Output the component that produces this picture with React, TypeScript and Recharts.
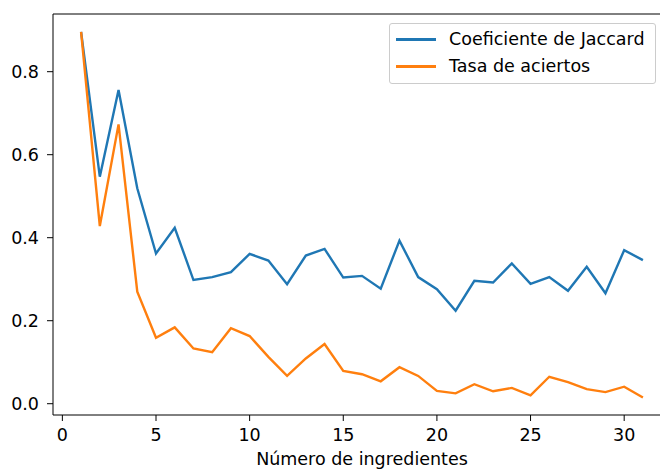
import React from "react";
import { LineChart, Line, XAxis, YAxis } from "recharts";

const ingredients = [
  1, 2, 3, 4, 5, 6, 7, 8, 9, 10, 11, 12, 13, 14, 15, 16, 17, 18, 19, 20, 21, 22, 23, 24, 25, 26, 27, 28, 29, 30, 31,
];
const jaccard = [
  0.896, 0.547, 0.756, 0.519, 0.362, 0.424, 0.298, 0.305, 0.317, 0.361, 0.345, 0.288, 0.357, 0.373, 0.304, 0.308,
  0.277, 0.393, 0.305, 0.276, 0.224, 0.296, 0.292, 0.338, 0.289, 0.305, 0.272, 0.33, 0.266, 0.37, 0.346,
];
const aciertos = [
  0.896, 0.428, 0.673, 0.27, 0.159, 0.184, 0.133, 0.124, 0.182, 0.163, 0.113, 0.067, 0.109, 0.144, 0.079, 0.071,
  0.054, 0.088, 0.067, 0.031, 0.025, 0.047, 0.03, 0.038, 0.02, 0.065, 0.052, 0.035, 0.028, 0.041, 0.015,
];
const xTicks = [0, 5, 10, 15, 20, 25, 30];
const yTicks = [0, 0.2, 0.4, 0.6, 0.8];

const seriesNames = ["Coeficiente de Jaccard", "Tasa de aciertos"];
const COLORS = ["#1f77b4", "#ff7f0e"];
const FONT = "DejaVu Sans";
const FS = 17.5;

const data = ingredients.map((n, i) => ({ n, jaccard: jaccard[i], aciertos: aciertos[i] }));

// legend drawn as an overlay so it doesn't eat plot space
const LegendBox = () => (
  <div
    style={{
      position: "absolute",
      left: 389,
      top: 23,
      border: "1px solid #cccccc",
      borderRadius: 3,
      background: "rgba(255,255,255,0.8)",
      padding: "2px 10px 3px 6px",
      fontFamily: FONT,
      fontSize: FS,
      color: "#000",
      lineHeight: "27px",
    }}
  >
    {seriesNames.map((name, i) => (
      <div key={name} style={{ display: "flex", alignItems: "center", whiteSpace: "nowrap" }}>
        <span style={{ display: "inline-block", width: 40, height: 2.4, background: COLORS[i], marginRight: 13 }} />
        {name}
      </div>
    ))}
  </div>
);

const App = () => {
  const tickStyle = { fill: "#000", fontSize: FS, fontFamily: FONT };
  return (
    <div style={{ position: "absolute", left: 0, top: 0, width: 660, height: 470, overflow: "hidden", background: "#fff" }}>
      <LineChart width={690} height={470} data={data} margin={{ top: 13, right: 18, bottom: 0, left: 8 }}>
        <XAxis
          dataKey="n"
          type="number"
          domain={[-0.5, 32.5]}
          ticks={xTicks}
          allowDataOverflow
          height={55}
          tickSize={6}
          tickMargin={8}
          stroke="#000"
          tick={tickStyle}
          label={{ value: "Número de ingredientes", position: "insideBottom", offset: 5, fill: "#000", fontSize: FS, fontFamily: FONT }}
        />
        <XAxis xAxisId="top" dataKey="n" type="number" domain={[-0.5, 32.5]} orientation="top" height={1} tick={false} tickLine={false} stroke="#000" />
        <YAxis
          type="number"
          domain={[-0.0272, 0.939]}
          ticks={yTicks}
          allowDataOverflow
          width={45}
          tickSize={6}
          tickMargin={8}
          stroke="#000"
          tick={tickStyle}
          tickFormatter={(v: number) => v.toFixed(1)}
        />
        <YAxis yAxisId="right" orientation="right" width={1} tick={false} tickLine={false} stroke="#000" />
        <Line dataKey="jaccard" name={seriesNames[0]} stroke={COLORS[0]} strokeWidth={2.4} dot={false} isAnimationActive={false} />
        <Line dataKey="aciertos" name={seriesNames[1]} stroke={COLORS[1]} strokeWidth={2.4} dot={false} isAnimationActive={false} />
      </LineChart>
      <LegendBox />
    </div>
  );
};

export default App;
